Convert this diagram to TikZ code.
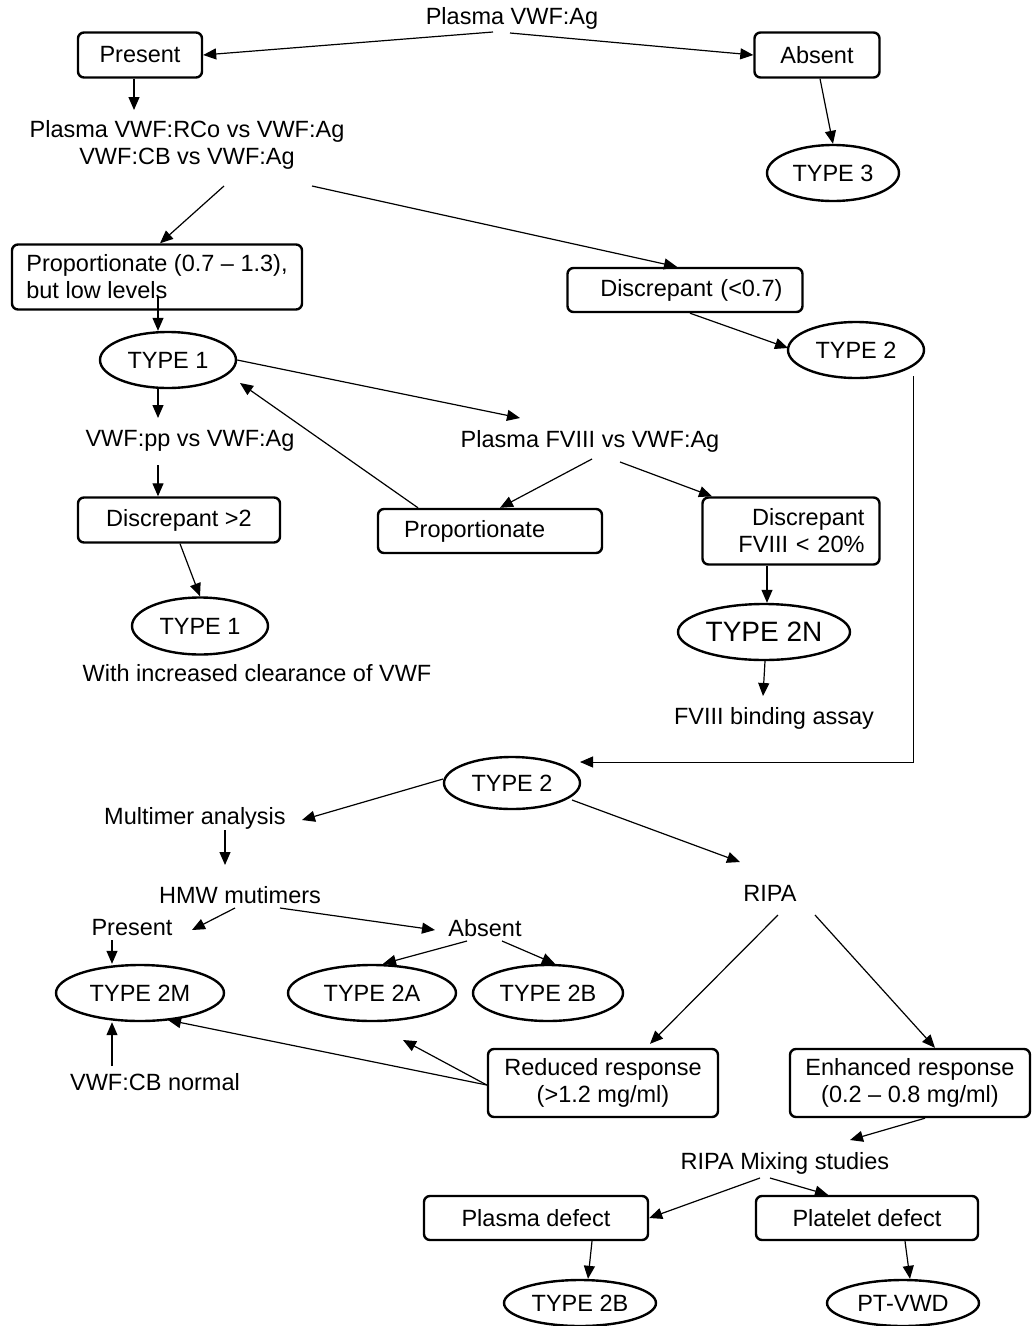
\documentclass[tikz,border=0pt]{standalone}
\usepackage{fontspec}
\setmainfont{Liberation Sans}
\usetikzlibrary{arrows.meta,shapes.geometric,calc}
\begin{document}
\begin{tikzpicture}[x=1pt,y=-1pt,
  every node/.style={font=\fontsize{23.5}{27}\selectfont},
  box/.style={draw,line width=2.4pt,rounded corners=6pt,inner sep=0pt,align=center},
  ell/.style={draw,ellipse,line width=2.4pt,inner sep=0pt},
  txt/.style={inner sep=0pt,align=center},
  arr/.style={line width=1.2pt,-{Triangle[length=13pt,width=11pt]}}]
\useasboundingbox[fill=white] (0,0) rectangle (1032,1326);

% nodes
\node[txt] (plasma) at (512,18) {Plasma VWF:Ag};
\node[box,minimum width=124pt,minimum height=45pt] (present) at (140,55) {Present};
\node[box,minimum width=125pt,minimum height=45pt] (absent) at (817,55) {Absent};
\node[txt] (rco) at (187,145) {Plasma VWF:RCo vs VWF:Ag\\VWF:CB vs VWF:Ag};
\node[ell,minimum width=132pt,minimum height=56pt] (type3) at (833,173) {TYPE 3};
\node[box,align=left,minimum width=290pt,minimum height=65pt] (prop) at (157,277) {Proportionate (0.7 -- 1.3),\\but low levels};
\node[box,align=right,text width=195pt,inner xsep=20pt,minimum height=44pt] (disc) at (685,290) {Discrepant (<0.7)};
\node[ell,minimum width=136pt,minimum height=56pt] (t2u) at (856,350) {TYPE 2};
\node[ell,minimum width=136pt,minimum height=56pt] (t1) at (168,360) {TYPE 1};
\node[txt] (pp) at (190,441) {VWF:pp vs VWF:Ag};
\node[txt] (fviii) at (590,441) {Plasma FVIII vs VWF:Ag};
\node[box,minimum width=202pt,minimum height=45pt] (disc2) at (179,520) {Discrepant >2};
\node[box,align=left,text width=172pt,inner xsep=26pt,minimum height=44pt] (prop2) at (490,531) {Proportionate};
\node[box,align=right,text width=147pt,inner xsep=15pt,minimum height=67pt] (discf) at (791,531) {Discrepant\\FVIII < 20\%};
\node[ell,minimum width=136pt,minimum height=57pt] (t1b) at (200,626) {TYPE 1};
\node[ell,minimum width=172pt,minimum height=56pt,font=\fontsize{28}{30}\selectfont] (t2n) at (764,632) {TYPE 2N};
\node[txt] (clear) at (257,673) {With increased clearance of VWF};
\node[txt] (bind) at (774,718) {FVIII binding assay};
\node[ell,minimum width=136pt,minimum height=52pt] (t2) at (512,783) {TYPE 2};
\node[txt] (mult) at (195,818) {Multimer analysis};
\node[txt] (ripa) at (770,893) {RIPA};
\node[txt] (hmw) at (240,895) {HMW mutimers};
\node[txt] (pres2) at (132,928) {Present};
\node[txt] (abs2) at (485,928) {Absent};
\node[ell,minimum width=168pt,minimum height=56pt] (t2m) at (140,993) {TYPE 2M};
\node[ell,minimum width=168pt,minimum height=56pt] (t2a) at (372,993) {TYPE 2A};
\node[ell,minimum width=150pt,minimum height=56pt] (t2b) at (548,993) {TYPE 2B};
\node[box,minimum width=230pt,minimum height=68pt] (red) at (603,1083) {Reduced response\\(>1.2 mg/ml)};
\node[box,minimum width=240pt,minimum height=68pt] (enh) at (910,1083) {Enhanced response\\(0.2 -- 0.8 mg/ml)};
\node[txt] (cbn) at (155,1082) {VWF:CB normal};
\node[txt] (mix) at (785,1163) {RIPA Mixing studies};
\node[box,minimum width=224pt,minimum height=44pt] (pd) at (536,1218) {Plasma defect};
\node[box,minimum width=222pt,minimum height=44pt] (pld) at (867,1218) {Platelet defect};
\node[ell,minimum width=152pt,minimum height=46pt] (t2b2) at (580,1303) {TYPE 2B};
\node[ell,minimum width=152pt,minimum height=46pt] (ptv) at (903,1303) {PT-VWD};

% connectors
\draw[arr] ([shift={(-19,14)}]plasma.center) -- (present.east);
\draw[arr] ([shift={(-2,15)}]plasma.center) -- (absent.west);
\draw[arr] ([xshift=-6pt]present.south) -- ([shift={(-53,-35)}]rco.center);
\draw[arr] ([xshift=3pt]absent.south) -- (type3.north);
\draw[arr] ([shift={(37,41)}]rco.center) -- ([xshift=3pt]prop.north);
\draw[arr] ([shift={(125,41)}]rco.center) -- ([xshift=-8pt]disc.north);
\draw[arr] ([shift={(1,20)}]prop.center) -- ([xshift=-10pt]t1.north);
\draw[arr] ([xshift=5pt]disc.south) -- ([shift={(-68,-2)}]t2u.center);
\draw[arr] ([xshift=-10pt]t1.south) -- ([shift={(-32,-23)}]pp.center);
\draw[arr] (t1.east) -- ([shift={(-70,-23)}]fviii.center);
\draw[arr] ([xshift=-72pt]prop2.north) -- ([shift={(72,23)}]t1.center);
\draw[arr] ([shift={(-32,24)}]pp.center) -- ([xshift=-21pt]disc2.north);
\draw[arr] ([xshift=1pt]disc2.south) -- (t1b.north);
\draw[arr] ([shift={(2,18)}]fviii.center) -- ([xshift=10pt]prop2.north);
\draw[arr] ([shift={(30,21)}]fviii.center) -- ([xshift=-79pt]discf.north);
\draw[arr] ([xshift=-24pt]discf.south) -- ([xshift=3pt]t2n.north);
\draw[arr] ([xshift=1pt]t2n.south) -- ([shift={(-11,-22)}]bind.center);
\draw[arr,line width=1pt] ([shift={(57,26)}]t2u.center) |- ([shift={(68,-21)}]t2.center);
\draw[arr] ([shift={(-69,-4)}]t2.center) -- ([shift={(107,2)}]mult.center);
\draw[arr] ([shift={(60,17)}]t2.center) -- ([shift={(-30,-31)}]ripa.center);
\draw[arr] ([shift={(30,12)}]mult.center) -- ([shift={(-15,-30)}]hmw.center);
\draw[arr] ([shift={(-5,13)}]hmw.center) -- ([shift={(60,2)}]pres2.center);
\draw[arr] ([shift={(40,13)}]hmw.center) -- ([shift={(-50,2)}]abs2.center);
\draw[arr] ([shift={(-20,12)}]pres2.center) -- ([xshift=-28pt]t2m.north);
\draw[arr] ([shift={(-18,13)}]abs2.center) -- ([xshift=11pt]t2a.north);
\draw[arr] ([shift={(17,13)}]abs2.center) -- ([xshift=7pt]t2b.north);
\draw[arr] ([shift={(-43,-16)}]cbn.center) -- ([xshift=-28pt]t2m.south);
\draw[arr] ([yshift=-2pt]red.west) -- ([shift={(28,27)}]t2m.center);
\draw[arr] ([yshift=-2pt]red.west) -- ([shift={(31,47)}]t2a.center);
\draw[arr] ([shift={(8,22)}]ripa.center) -- ([xshift=47pt,yshift=4pt]red.north);
\draw[arr] ([shift={(45,22)}]ripa.center) -- ([xshift=25pt]enh.north);
\draw[arr] ([xshift=15pt]enh.south) -- ([shift={(65,-23)}]mix.center);
\draw[arr] ([shift={(-25,15)}]mix.center) -- (pd.east);
\draw[arr] ([shift={(-15,15)}]mix.center) -- ([xshift=-39pt]pld.north);
\draw[arr] ([xshift=56pt]pd.south) -- ([xshift=8pt]t2b2.north);
\draw[arr] ([xshift=38pt]pld.south) -- ([xshift=7pt]ptv.north);
\end{tikzpicture}
\end{document}
